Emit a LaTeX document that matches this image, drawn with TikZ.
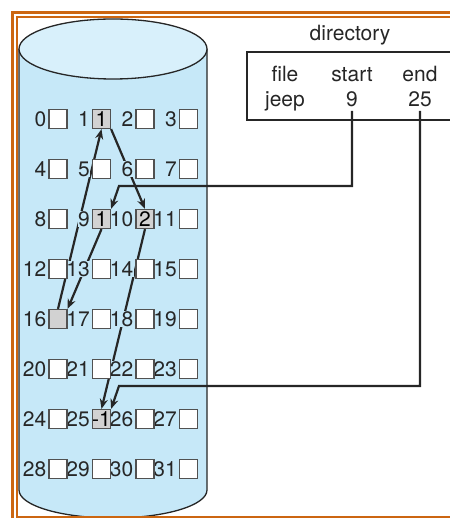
\documentclass[tikz,border=0pt]{standalone}
\usepackage{fontspec}
\setmainfont{TeX Gyre Heros}
\usetikzlibrary{arrows.meta,calc}

\definecolor{diskblue}{HTML}{C6E8F8}
\definecolor{disktop}{HTML}{D8F0FB}
\definecolor{frameorange}{HTML}{CC6611}
\definecolor{blockgray}{HTML}{D2D2D2}
\definecolor{ink}{HTML}{262626}

\pgfdeclarelayer{back}
\pgfsetlayers{back,main}

\tikzset{
  blk/.style={draw=ink!80, line width=1.2pt, fill=white, minimum width=18pt, minimum height=19pt, inner sep=0pt},
  used/.style={blk, fill=blockgray},
  num/.style={fill=diskblue, inner sep=0.4pt, anchor=east, text=ink},
  link/.style={draw=ink, line width=2.2pt, -{Stealth[length=10pt,width=8pt]}},
}

\begin{document}
\begin{tikzpicture}[x=1pt,y=-1pt,font=\fontsize{21}{24}\selectfont]
\useasboundingbox (0,0) rectangle (449,518);

% blocks
\foreach \n in {0,...,31}{
  \pgfmathtruncatemacro\c{mod(\n,4)}
  \pgfmathtruncatemacro\r{div(\n,4)}
  \node[blk] (b\n) at (58+43.5*\c, 119+50*\r) {};
}
\node[used] at (b1.center) {1};
\node[used] at (b9.center) {1};
\node[used] at (b10.center) {2};
\node[used] at (b16.center) {};
\node[used] at (b25.center) {-1};

% directory
\node[anchor=base, text=ink] (dirlbl) at (350,41) {directory};
\draw[ink, line width=2.4pt] (247,52) rectangle (470,120);
\node[anchor=base, text=ink] (hfile) at (285,82) {file};
\node[anchor=base, text=ink] (hstart) at (352,82) {start};
\node[anchor=base, text=ink] (hend) at (420,82) {end};
\node[anchor=base, text=ink] (fjeep) at (285,107) {jeep};
\node[anchor=base, text=ink] (s9) at (352,107) {9};
\node[anchor=base, text=ink] (e25) at (420,107) {25};

\begin{pgfonlayer}{back}
% disk
\fill[diskblue] (19,49) -- (19,490) arc (180:0:94 and 28) -- (207,49) -- cycle;
\draw[ink, line width=1.3pt] (19,49) -- (19,490) arc (180:0:94 and 28) -- (207,49);
\draw[ink, line width=1.3pt, fill=disktop] (113,49) ellipse (94 and 30);

% frame
\draw[frameorange, line width=3pt] (12.5,12.5) rectangle (470,540);
\draw[frameorange, line width=2pt] (17,17) rectangle (465,517);

% chain
\coordinate (c9) at (119,186);
\coordinate (c25) at (119,386);
\draw[link] (s9.south) |- (c9) -- (b9.north east);
\draw[link] (b9.south) -- (b16.north east);
\draw[link] (b16.north) -- (b1.south);
\draw[link] (b1.south east) -- (b10.north);
\draw[link] (b10.south) -- (b25.north);
\draw[link] (e25.south) |- (c25) -- (b25.north east);

% block numbers
\foreach \n in {0,...,31}
  \node[num] (l\n) at ([xshift=-1.5pt]b\n.west) {\n};
\end{pgfonlayer}

\end{tikzpicture}
\end{document}
